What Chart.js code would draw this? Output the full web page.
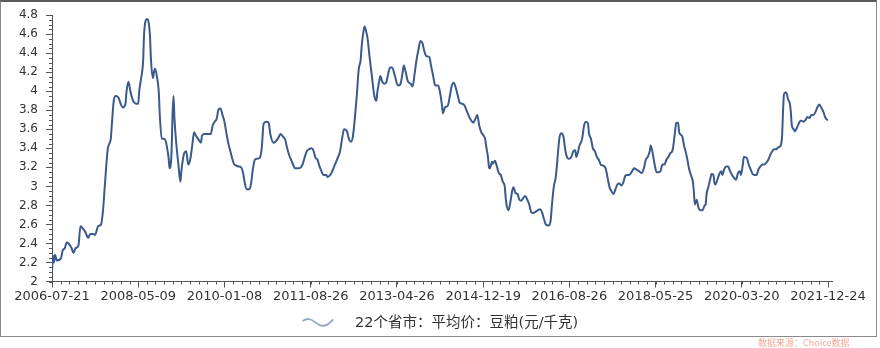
<!DOCTYPE html>
<html>
<head>
<meta charset="utf-8">
<script src="https://cdn.jsdelivr.net/npm/chart.js@4.4.1/dist/chart.umd.min.js"></script>
<style>
html,body{margin:0;padding:0;background:#fff;}
#wrap{position:relative;width:880px;height:348px;overflow:hidden;background:#fff;}
#frame{position:absolute;left:0;top:0;width:877px;height:337px;box-sizing:border-box;border:1px solid #8a8a8a;border-top:2px solid #5a5a5a;}
#c{position:absolute;left:0;top:0;}
#src{position:absolute;left:758px;top:336px;font:9px 'Noto Sans CJK SC','DejaVu Sans',sans-serif;color:#f0a894;white-space:nowrap;}
</style>
</head>
<body>
<div id="wrap">
  <div id="frame"></div>
  <canvas id="c" width="880" height="348"></canvas>
  <div id="src">数据来源：Choice数据</div>
</div>
<script>
// ---- data ----
const seriesName = '22个省市：平均价：豆粕(元/千克)';
const xTickLabels = ['2006-07-21','2008-05-09','2010-01-08','2011-08-26','2013-04-26','2014-12-19','2016-08-26','2018-05-25','2020-03-20','2021-12-24'];
const obsPerLabel = 88;     // observations between two date labels
const lastObs = 796;        // axis end (observation index)
const yTickValues = [2,2.2,2.4,2.6,2.8,3,3.2,3.4,3.6,3.8,4,4.2,4.4,4.6,4.8];

// observation index of each reading
const obs = [
0,1,2,3,5,9,11,13,15,17,20,22,24,27,29,32,34,37,39,42,44,47,50,52,54,57,60,61,63,65,68,70,72,75,76,78,80,82,84,86,88,89,91,93,94,97,98,100,101,103,104,105,107,109,110,112,114,116,118,119,120,122,123,124,125,127,129,131,132,134,135,137,139,141,143,145,147,149,152,153,155,158,162,
164,166,168,170,172,174,176,178,180,182,184,186,188,190,193,195,197,199,201,203,205,207,209,212,214,216,219,221,223,226,228,231,233,236,238,240,242,244,246,248,251,254,256,258,260,262,265,267,269,271,273,275,277,280,281,284,286,288,290,292,294,296,298,301,303,305,307,309,311,313,315,316,318,319,321,322,324,326,
329,331,332,334,335,337,339,341,343,345,347,350,352,354,356,358,359,361,363,366,368,370,372,374,376,378,380,382,385,387,389,391,394,396,398,399,401,404,406,408,410,412,414,416,418,421,423,425,428,430,432,434,436,438,440,442,443,445,446,447,449,450,452,454,456,458,460,462,463,464,466,468,470,471,473,475,477,479,481,483,485,487,489,
491,493,496,498,500,502,504,507,509,510,512,514,515,517,518,520,522,524,526,528,530,532,534,535,537,538,541,543,545,547,548,550,552,554,556,558,560,562,565,567,569,571,573,575,577,579,581,583,585,587,589,592,594,596,599,602,604,606,608,610,611,613,615,617,619,621,623,625,627,629,631,633,634,636,637,639,640,643,645,647,649,
650,652,654,655,656,658,659,660,662,664,666,667,668,670,672,673,675,676,677,679,681,683,684,686,688,690,692,694,696,698,700,702,703,705,706,709,711,713,715,717,719,721,723,725,727,729,731,733,735,737,739,741,743,745,746,747,749,750,751,753,754,755,757,758,760,762,764,765,767,769,771,773,775,777,779,781,783,785,787,789,791,792
];
// price (元/千克) at each observation
const price = [
2.10,2.27,2.20,2.28,2.22,2.24,2.33,2.35,2.41,2.40,2.35,2.30,2.35,2.38,2.58,2.55,2.52,2.46,2.50,2.50,2.49,2.58,2.60,2.74,3.02,3.40,3.50,3.64,3.90,3.95,3.93,3.87,3.83,3.87,3.99,4.10,4.00,3.92,3.88,3.87,3.87,4.00,4.14,4.32,4.61,4.76,4.75,4.58,4.33,4.14,4.20,4.24,4.16,3.99,3.75,3.50,3.50,3.48,3.37,3.30,3.19,3.36,3.75,3.95,3.71,3.43,3.23,3.05,3.16,3.31,3.35,3.37,3.23,3.28,3.42,3.57,3.53,3.50,3.46,3.53,3.55,3.55,3.55,
3.64,3.68,3.71,3.81,3.82,3.75,3.68,3.56,3.45,3.37,3.29,3.23,3.22,3.21,3.20,3.14,3.02,2.97,2.97,3.02,3.18,3.28,3.29,3.30,3.40,3.66,3.68,3.67,3.54,3.46,3.47,3.51,3.55,3.52,3.49,3.40,3.33,3.28,3.23,3.19,3.19,3.20,3.24,3.31,3.37,3.39,3.40,3.37,3.30,3.28,3.21,3.16,3.12,3.12,3.10,3.12,3.16,3.21,3.26,3.31,3.37,3.50,3.60,3.58,3.50,3.47,3.52,3.71,3.95,4.23,4.33,4.47,4.64,4.68,4.61,4.56,4.37,4.20,
3.95,3.90,3.99,4.11,4.16,4.10,4.08,4.09,4.18,4.25,4.25,4.16,4.08,4.06,4.09,4.21,4.27,4.20,4.11,4.08,4.05,4.18,4.33,4.44,4.53,4.51,4.42,4.37,4.36,4.26,4.16,4.06,4.06,3.99,3.85,3.77,3.83,3.85,3.95,4.06,4.09,4.04,3.96,3.88,3.87,3.85,3.80,3.75,3.69,3.67,3.71,3.75,3.64,3.57,3.54,3.50,3.43,3.30,3.20,3.19,3.26,3.24,3.27,3.21,3.14,3.12,3.05,3.00,2.88,2.80,2.75,2.85,2.97,2.99,2.93,2.92,2.86,2.85,2.88,2.90,2.86,2.81,2.73,
2.72,2.73,2.75,2.76,2.73,2.66,2.60,2.59,2.65,2.78,2.99,3.09,3.19,3.43,3.52,3.56,3.52,3.37,3.30,3.29,3.31,3.37,3.38,3.31,3.37,3.42,3.50,3.64,3.68,3.66,3.56,3.50,3.40,3.37,3.31,3.28,3.23,3.22,3.19,3.09,2.99,2.95,2.92,2.97,3.02,3.03,3.01,3.04,3.11,3.12,3.12,3.16,3.19,3.18,3.16,3.14,3.19,3.28,3.31,3.37,3.43,3.35,3.23,3.15,3.15,3.16,3.23,3.23,3.28,3.31,3.35,3.37,3.42,3.59,3.67,3.67,3.57,3.53,3.43,3.35,3.25,
3.19,3.12,3.05,2.95,2.81,2.86,2.81,2.77,2.75,2.75,2.80,2.81,2.92,3.00,3.09,3.13,3.12,3.04,3.02,3.07,3.13,3.16,3.12,3.18,3.21,3.21,3.16,3.12,3.09,3.07,3.14,3.16,3.12,3.23,3.31,3.30,3.23,3.18,3.13,3.12,3.12,3.18,3.21,3.23,3.23,3.25,3.28,3.33,3.37,3.39,3.39,3.41,3.42,3.52,3.78,3.97,3.99,3.97,3.92,3.87,3.78,3.64,3.60,3.58,3.61,3.66,3.69,3.69,3.68,3.70,3.73,3.72,3.75,3.75,3.78,3.83,3.86,3.83,3.79,3.73,3.70,3.70
];

// ---- styles ----
const FONT = "'DejaVu Sans','Noto Sans CJK SC',sans-serif";
const LINE = '#3b5a8c';
const AXIS = '#555555';

const points = obs.map((o, i) => ({x: o, y: price[i]}));

// legend wave icon
const icon = document.createElement('canvas');
icon.width = 46; icon.height = 12;
(function(){
  const c = icon.getContext('2d');
  c.strokeStyle = '#7489ad'; c.lineWidth = 1.4; c.lineCap = 'round';
  c.beginPath();
  c.moveTo(1, 4);
  c.bezierCurveTo(6, 1, 9, 2, 14, 6);
  c.bezierCurveTo(19, 10, 24, 11, 31, 3);
  c.stroke();
})();

const minorTicks = {
  id: 'minorTicks',
  afterDraw(chart) {
    const {ctx, scales: {x, y}} = chart;
    ctx.save();
    ctx.strokeStyle = AXIS; ctx.lineWidth = 1;
    ctx.beginPath();
    const xs = obsPerLabel / 10;
    for (let v = 0; v <= lastObs + 1e-6; v += xs) {
      const px = Math.round(x.getPixelForValue(v)) + 0.5;
      ctx.moveTo(px, x.top); ctx.lineTo(px, x.top + 3);
    }
    for (let v = y.min; v <= y.max + 1e-6; v += 0.05) {
      const py = Math.round(y.getPixelForValue(v)) + 0.5;
      ctx.moveTo(y.right - 3, py); ctx.lineTo(y.right, py);
    }
    ctx.stroke();
    ctx.restore();
  }
};

new Chart(document.getElementById('c'), {
  type: 'line',
  data: {
    datasets: [{
      label: seriesName,
      data: points,
      borderColor: LINE,
      backgroundColor: LINE,
      borderWidth: 2,
      pointRadius: 0,
      cubicInterpolationMode: 'monotone',
      borderJoinStyle: 'round',
      fill: false
    }]
  },
  options: {
    responsive: false,
    animation: false,
    events: [],
    layout: {padding: {top: 13, right: 0, bottom: 8, left: 0}},
    plugins: {
      tooltip: {enabled: false},
      legend: {
        position: 'bottom',
        labels: {
          usePointStyle: true,
          pointStyle: icon,
          pointStyleWidth: 46,
          color: '#333',
          padding: 10,
          font: {family: FONT, size: 14.5}
        }
      }
    },
    scales: {
      x: {
        type: 'linear',
        min: 0,
        max: lastObs,
        afterBuildTicks: s => { s.ticks = xTickLabels.map((_, i) => ({value: i * obsPerLabel})); },
        afterFit: s => { s.height = 24; },
        ticks: {
          autoSkip: false, maxRotation: 0, minRotation: 0,
          callback: (v, i) => xTickLabels[i],
          color: '#333', padding: 1,
          font: {family: FONT, size: 13}
        },
        grid: {drawOnChartArea: false, drawTicks: true, tickLength: 6, tickColor: AXIS, tickWidth: 1},
        border: {display: true, color: AXIS, width: 1}
      },
      y: {
        min: 2,
        max: 4.8,
        afterBuildTicks: s => { s.ticks = yTickValues.map(v => ({value: v})); },
        afterFit: s => { s.width = 52; },
        ticks: {
          callback: v => String(+Number(v).toFixed(1)),
          color: '#333', padding: 8,
          font: {family: FONT, size: 12}
        },
        grid: {drawOnChartArea: false, drawTicks: true, tickLength: 6, tickColor: AXIS, tickWidth: 1},
        border: {display: true, color: AXIS, width: 1}
      },
      yRightSpace: {
        position: 'right',
        min: 2,
        max: 4.8,
        afterFit: s => { s.width = 48; },
        ticks: {display: false},
        grid: {display: false, drawTicks: false},
        border: {display: false}
      }
    }
  },
  plugins: [minorTicks]
});
</script>
</body>
</html>
